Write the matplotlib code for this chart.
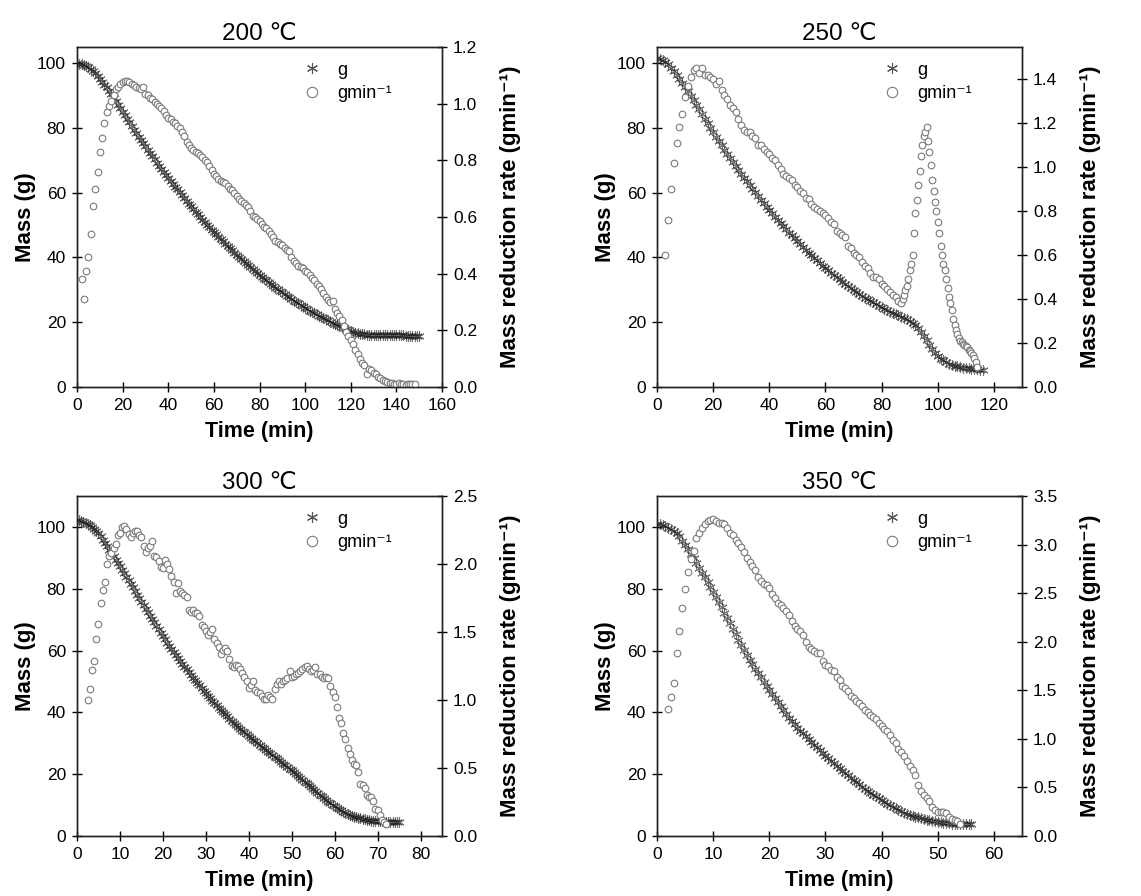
import numpy as np
import matplotlib
matplotlib.use("Agg")
import matplotlib.pyplot as plt
from matplotlib.lines import Line2D

plt.rcParams["font.family"] = ["Liberation Sans", "DejaVu Sans"]

# === Data ===
# mass (g); 200/250 C every 1 min from t = 0, 300/350 C every 0.5 min from t = 0
mass_200 = [100.0, 99.9, 99.8, 99.5, 99.2, 98.8, 98.2, 97.6, 96.9, 96.1,
            95.2, 94.3, 93.4, 92.5, 91.5, 90.5, 89.4, 88.3, 87.2, 86.1,
            85.0, 83.9, 82.8, 81.7, 80.6, 79.5, 78.4, 77.3, 76.3, 75.3,
            74.3, 73.3, 72.3, 71.3, 70.3, 69.3, 68.4, 67.4, 66.5, 65.5,
            64.6, 63.7, 62.8, 61.9, 61.0, 60.1, 59.2, 58.3, 57.5, 56.6,
            55.8, 54.9, 54.1, 53.3, 52.5, 51.7, 50.9, 50.1, 49.4, 48.6,
            47.9, 47.1, 46.4, 45.7, 45.0, 44.3, 43.6, 42.9, 42.2, 41.5,
            40.9, 40.2, 39.6, 38.9, 38.3, 37.6, 37.0, 36.4, 35.8, 35.2,
            34.6, 34.0, 33.5, 32.9, 32.4, 31.8, 31.3, 30.7, 30.2, 29.7,
            29.2, 28.7, 28.2, 27.7, 27.2, 26.7, 26.3, 25.8, 25.4, 24.9,
            24.4, 24.0, 23.6, 23.2, 22.8, 22.4, 22.0, 21.6, 21.3, 20.9,
            20.6, 20.2, 19.9, 19.5, 19.2, 18.8, 18.5, 18.1, 17.8, 17.5,
            17.2, 17.0, 16.8, 16.6, 16.5, 16.4, 16.3, 16.2, 16.2, 16.1,
            16.1, 16.1, 16.1, 16.0, 16.0, 16.0, 16.0, 16.0, 16.0, 16.0,
            16.0, 16.0, 16.0, 16.0, 15.9, 15.9, 15.9, 15.9, 15.9, 15.9, 15.9]

mass_250 = [101.5, 101.3, 101.0, 100.4, 99.6, 98.6, 97.5, 96.3, 95.1, 93.9,
            92.6, 91.3, 89.9, 88.5, 87.1, 85.7, 84.3, 82.9, 81.5, 80.1,
            78.7, 77.3, 76.0, 74.6, 73.3, 72.0, 70.7, 69.4, 68.2, 67.0,
            65.8, 64.6, 63.5, 62.3, 61.2, 60.1, 59.0, 57.9, 56.8, 55.7,
            54.7, 53.6, 52.6, 51.6, 50.6, 49.6, 48.7, 47.7, 46.8, 45.9,
            45.0, 44.1, 43.2, 42.3, 41.5, 40.7, 39.9, 39.1, 38.3, 37.5,
            36.8, 36.0, 35.3, 34.6, 33.9, 33.2, 32.5, 31.8, 31.2, 30.5,
            29.9, 29.3, 28.7, 28.1, 27.6, 27.1, 26.6, 26.1, 25.6, 25.1,
            24.6, 24.1, 23.7, 23.3, 22.9, 22.5, 22.1, 21.7, 21.3, 20.9,
            20.4, 19.9, 19.2, 18.2, 16.9, 15.7, 14.5, 13.1, 11.8, 10.6,
            9.6, 8.8, 8.2, 7.7, 7.2, 6.9, 6.6, 6.4, 6.2, 6.0,
            5.9, 5.8, 5.7, 5.6, 5.5, 5.4, 5.4]

mass_300 = [102.2, 102.1, 101.9, 101.7, 101.4, 101.0, 100.6, 100.1, 99.4, 98.7,
            97.9, 96.9, 95.9, 94.8, 93.7, 92.6, 91.5, 90.5, 89.4, 88.3,
            87.2, 86.1, 85.0, 83.9, 82.7, 81.6, 80.4, 79.3, 78.1, 77.0,
            75.8, 74.7, 73.5, 72.4, 71.3, 70.2, 69.1, 68.0, 66.9, 65.8,
            64.7, 63.7, 62.6, 61.6, 60.6, 59.6, 58.6, 57.7, 56.7, 55.8,
            54.8, 53.9, 53.0, 52.1, 51.2, 50.4, 49.5, 48.7, 47.8, 47.0,
            46.2, 45.4, 44.6, 43.8, 43.0, 42.3, 41.5, 40.8, 40.1, 39.4,
            38.7, 38.0, 37.3, 36.7, 36.0, 35.4, 34.7, 34.1, 33.5, 32.9,
            32.3, 31.7, 31.1, 30.6, 30.0, 29.5, 28.9, 28.4, 27.8, 27.3,
            26.7, 26.2, 25.6, 25.1, 24.5, 24.0, 23.4, 22.9, 22.3, 21.8,
            21.2, 20.6, 20.0, 19.4, 18.8, 18.2, 17.6, 17.0, 16.4, 15.8,
            15.2, 14.6, 14.0, 13.4, 12.8, 12.2, 11.7, 11.1, 10.6, 10.1,
            9.6, 9.1, 8.7, 8.3, 7.9, 7.5, 7.2, 6.9, 6.6, 6.3,
            6.1, 5.9, 5.7, 5.5, 5.4, 5.2, 5.1, 5.0, 4.9, 4.85,
            4.8, 4.75, 4.7, 4.65, 4.6, 4.6, 4.6, 4.6, 4.6, 4.6,
            4.6]

mass_350 = [101.0, 100.8, 100.6, 100.3, 99.8, 99.3, 98.7, 97.9, 96.9, 95.6,
            94.1, 92.7, 91.3, 89.8, 88.3, 86.8, 85.2, 83.7, 82.1, 80.6,
            79.0, 77.4, 75.8, 74.1, 72.3, 70.6, 68.8, 67.0, 65.2, 63.5,
            61.9, 60.3, 58.7, 57.1, 55.6, 54.1, 52.7, 51.3, 49.9, 48.5,
            47.2, 45.9, 44.6, 43.3, 42.0, 40.7, 39.5, 38.3, 37.2, 36.1,
            35.1, 34.1, 33.2, 32.3, 31.4, 30.5, 29.6, 28.7, 27.8, 26.9,
            26.0, 25.1, 24.3, 23.5, 22.7, 21.9, 21.1, 20.3, 19.6, 18.8,
            18.1, 17.4, 16.7, 16.0, 15.3, 14.6, 14.0, 13.4, 12.8, 12.2,
            11.6, 11.0, 10.5, 9.9, 9.4, 8.9, 8.4, 8.0, 7.6, 7.2,
            6.9, 6.6, 6.3, 6.0, 5.8, 5.5, 5.3, 5.1, 4.9, 4.7,
            4.6, 4.4, 4.3, 4.2, 4.1, 4.0, 3.9, 3.85, 3.8, 3.8,
            3.8, 3.8, 3.8]

# mass reduction rate (g/min)
# 200 C: every 1 min from t = 2
rate_200 = [0.38, 0.31, 0.41, 0.46, 0.54, 0.64, 0.70, 0.76, 0.83, 0.88,
            0.93, 0.97, 0.99, 1.01, 1.03, 1.05, 1.06, 1.07, 1.075, 1.08,
            1.08, 1.075, 1.07, 1.065, 1.06, 1.055, 1.05, 1.06, 1.035, 1.03,
            1.02, 1.015, 1.005, 1.0, 0.99, 0.985, 0.975, 0.96, 0.95, 0.945,
            0.935, 0.93, 0.92, 0.915, 0.90, 0.885, 0.865, 0.855, 0.845, 0.835,
            0.83, 0.825, 0.82, 0.81, 0.80, 0.795, 0.78, 0.765, 0.75, 0.745,
            0.735, 0.727, 0.725, 0.72, 0.71, 0.70, 0.695, 0.685, 0.675, 0.665,
            0.656, 0.65, 0.643, 0.635, 0.62, 0.605, 0.60, 0.592, 0.585, 0.575,
            0.565, 0.56, 0.55, 0.54, 0.53, 0.516, 0.51, 0.505, 0.50, 0.49,
            0.485, 0.48, 0.46, 0.445, 0.436, 0.428, 0.424, 0.42, 0.41, 0.405,
            0.395, 0.385, 0.378, 0.365, 0.355, 0.346, 0.33, 0.316, 0.308, 0.30,
            0.305, 0.275, 0.26, 0.25, 0.235, 0.215, 0.195, 0.18, 0.165, 0.15,
            0.13, 0.115, 0.10, 0.085, 0.076, 0.045, 0.064, 0.06, 0.05, 0.045,
            0.037, 0.03, 0.023, 0.02, 0.018, 0.015, 0.013, 0.012, 0.012, 0.013,
            0.012, 0.01, 0.008, 0.01, 0.012, 0.01, 0.01]

# 250 C: every 1 min from t = 3 to 87, then every 0.5 min from 87.5 to 114
rate_250_a = [0.60, 0.76, 0.90, 1.02, 1.11, 1.18, 1.24, 1.32, 1.37, 1.41,
              1.44, 1.45, 1.43, 1.45, 1.42, 1.42, 1.41, 1.40, 1.38, 1.39,
              1.35, 1.33, 1.31, 1.28, 1.27, 1.25, 1.22, 1.19, 1.17, 1.16,
              1.16, 1.14, 1.13, 1.10, 1.10, 1.08, 1.07, 1.06, 1.04, 1.03,
              1.01, 0.99, 0.97, 0.96, 0.95, 0.94, 0.92, 0.91, 0.89, 0.88,
              0.86, 0.855, 0.83, 0.82, 0.81, 0.80, 0.79, 0.78, 0.77, 0.75,
              0.74, 0.71, 0.70, 0.69, 0.68, 0.64, 0.63, 0.61, 0.60, 0.59,
              0.57, 0.55, 0.54, 0.52, 0.50, 0.50, 0.49, 0.47, 0.46, 0.445,
              0.43, 0.42, 0.41, 0.39, 0.38]
rate_250_b = [0.40, 0.42, 0.44, 0.46, 0.49, 0.53, 0.56, 0.60, 0.70, 0.79,
              0.85, 0.92, 0.98, 1.05, 1.10, 1.14, 1.16, 1.18, 1.12, 1.07,
              1.01, 0.94, 0.89, 0.84, 0.80, 0.75, 0.70, 0.64, 0.60, 0.56,
              0.53, 0.49, 0.45, 0.41, 0.38, 0.35, 0.31, 0.28, 0.26, 0.24,
              0.225, 0.21, 0.205, 0.195, 0.19, 0.185, 0.18, 0.17, 0.165, 0.155,
              0.145, 0.13, 0.115, 0.09]

# 300 C: every 0.5 min from t = 2.5
rate_300 = [1.00, 1.08, 1.22, 1.29, 1.45, 1.56, 1.71, 1.81, 1.87, 2.00,
            2.06, 2.08, 2.12, 2.15, 2.21, 2.23, 2.27, 2.28, 2.26, 2.22,
            2.20, 2.23, 2.24, 2.24, 2.21, 2.20, 2.13, 2.09, 2.12, 2.13,
            2.17, 2.06, 2.05, 2.02, 1.98, 1.97, 2.03, 2.00, 1.96, 1.91,
            1.87, 1.79, 1.86, 1.80, 1.79, 1.77, 1.76, 1.66, 1.65, 1.66,
            1.64, 1.64, 1.62, 1.55, 1.54, 1.51, 1.48, 1.50, 1.52, 1.45,
            1.42, 1.39, 1.34, 1.37, 1.38, 1.36, 1.30, 1.25, 1.24, 1.26,
            1.25, 1.23, 1.20, 1.17, 1.14, 1.09, 1.11, 1.14, 1.07, 1.06,
            1.05, 1.03, 1.01, 1.01, 1.04, 1.02, 1.01, 1.08, 1.12, 1.14,
            1.12, 1.14, 1.15, 1.16, 1.21, 1.17, 1.18, 1.19, 1.20, 1.21,
            1.23, 1.24, 1.25, 1.23, 1.21, 1.22, 1.24, 1.19, 1.19, 1.17,
            1.16, 1.17, 1.16, 1.10, 1.06, 1.02, 0.95, 0.87, 0.83, 0.76,
            0.71, 0.65, 0.60, 0.56, 0.53, 0.52, 0.47, 0.38, 0.375, 0.35,
            0.30, 0.29, 0.29, 0.26, 0.20, 0.19, 0.155, 0.12, 0.10, 0.085]

# 350 C: every 0.5 min from t = 2
rate_350 = [1.31, 1.43, 1.57, 1.88, 2.11, 2.35, 2.54, 2.72, 2.85, 2.93,
            3.07, 3.12, 3.17, 3.21, 3.24, 3.25, 3.26, 3.24, 3.22, 3.22,
            3.21, 3.17, 3.12, 3.10, 3.05, 3.02, 2.97, 2.92, 2.86, 2.82,
            2.78, 2.74, 2.67, 2.62, 2.59, 2.58, 2.55, 2.49, 2.45, 2.40,
            2.38, 2.35, 2.32, 2.28, 2.21, 2.16, 2.13, 2.11, 2.07, 2.00,
            1.95, 1.92, 1.90, 1.88, 1.88, 1.80, 1.76, 1.75, 1.71, 1.70,
            1.64, 1.61, 1.54, 1.52, 1.49, 1.44, 1.42, 1.39, 1.37, 1.34,
            1.30, 1.28, 1.25, 1.22, 1.20, 1.16, 1.13, 1.10, 1.08, 1.04,
            0.99, 0.96, 0.90, 0.86, 0.82, 0.77, 0.72, 0.68, 0.63, 0.52,
            0.46, 0.42, 0.39, 0.36, 0.30, 0.27, 0.25, 0.25, 0.245, 0.235,
            0.20, 0.18, 0.165, 0.155, 0.12]

titles = ["200 \u2103", "250 \u2103", "300 \u2103", "350 \u2103"]
legend_labels = ["g", "gmin\u207b\u00b9"]
rate_label = "Mass reduction rate (gmin\u207b\u00b9)"

# sampling grids (time in min)
t_mass_200 = np.arange(len(mass_200)) * 1.0
t_mass_250 = np.arange(len(mass_250)) * 1.0
t_mass_300 = np.arange(len(mass_300)) * 0.5
t_mass_350 = np.arange(len(mass_350)) * 0.5
t_rate_200 = 2.0 + np.arange(len(rate_200)) * 1.0
t_rate_250 = np.concatenate([3.0 + np.arange(len(rate_250_a)) * 1.0,
                             87.5 + np.arange(len(rate_250_b)) * 0.5])
rate_250 = rate_250_a + rate_250_b
t_rate_300 = 2.5 + np.arange(len(rate_300)) * 0.5
t_rate_350 = 2.0 + np.arange(len(rate_350)) * 0.5

# === Style ===
STAR = (6, 2, 0)
MASS_COLOR = "#1a1a1a"
RATE_COLOR = "#7a7a7a"
W, H = 1141, 896


def style_axis(ax):
    ax.tick_params(direction="inout", length=7, width=1, labelsize=12.5,
                   pad=4.5, colors="black")
    for s in ax.spines.values():
        s.set_linewidth(1)
        s.set_color("#222222")


def draw_panel(fig, px_box, title, t_m, m, t_r, r,
               xmax, xstep, ymax_l, ymax_r, rstep, rtop):
    x0, y_top, x1, y_bot = px_box
    ax = fig.add_axes([x0 / W, 1 - y_bot / H, (x1 - x0) / W, (y_bot - y_top) / H])
    ax.plot(t_m, m, ls="none", marker=STAR, ms=7.5, mew=0.8,
            color=MASS_COLOR, alpha=0.6)
    ax.set_xlim(0, xmax)
    ax.set_ylim(0, ymax_l)
    ax.set_xticks(np.arange(0, xmax + 0.01, xstep))
    ax.set_yticks(np.arange(0, 101, 20))
    ax.set_xlabel("Time (min)", fontsize=15.5, fontweight="bold", labelpad=6)
    ax.set_ylabel("Mass (g)", fontsize=16, fontweight="bold", labelpad=1)
    ax.set_title(title, fontsize=17.5, pad=5)
    style_axis(ax)

    ax2 = ax.twinx()
    ax2.plot(t_r, r, ls="none", marker="o", ms=4.8, mew=0.8,
             mfc="white", mec=RATE_COLOR)
    ax2.set_ylim(0, ymax_r)
    ticks = np.arange(0, rtop + 1e-6, rstep)
    ax2.set_yticks(ticks)
    ax2.set_yticklabels([f"{v:.1f}" for v in ticks])
    ax2.set_ylabel(rate_label, fontsize=16, fontweight="bold", labelpad=16)
    style_axis(ax2)

    handles = [Line2D([], [], ls="none", marker=STAR, ms=8, mew=0.8, color="#555555"),
               Line2D([], [], ls="none", marker="o", ms=7.5, mew=0.8,
                      mfc="white", mec=RATE_COLOR)]
    ax2.legend(handles, legend_labels, loc="upper left",
               bbox_to_anchor=(0.57, 1.005), frameon=False, fontsize=13,
               handlelength=1.2, handletextpad=0.8, labelspacing=0.35)
    return ax, ax2


def main():
    fig = plt.figure(figsize=(W / 100, H / 100), dpi=100)

    draw_panel(fig, (77, 47, 442, 387), titles[0], t_mass_200, mass_200,
               t_rate_200, rate_200, 160, 20, 105, 1.2, 0.2, 1.2)
    draw_panel(fig, (657, 47, 1022, 387), titles[1], t_mass_250, mass_250,
               t_rate_250, rate_250, 130, 20, 105, 1.546, 0.2, 1.4)
    draw_panel(fig, (77, 496, 442, 836), titles[2], t_mass_300, mass_300,
               t_rate_300, rate_300, 85, 10, 110, 2.5, 0.5, 2.5)
    draw_panel(fig, (657, 496, 1022, 836), titles[3], t_mass_350, mass_350,
               t_rate_350, rate_350, 65, 10, 110, 3.5, 0.5, 3.5)

    fig.savefig("out.png", dpi=100, facecolor="white")


if __name__ == "__main__":
    main()
